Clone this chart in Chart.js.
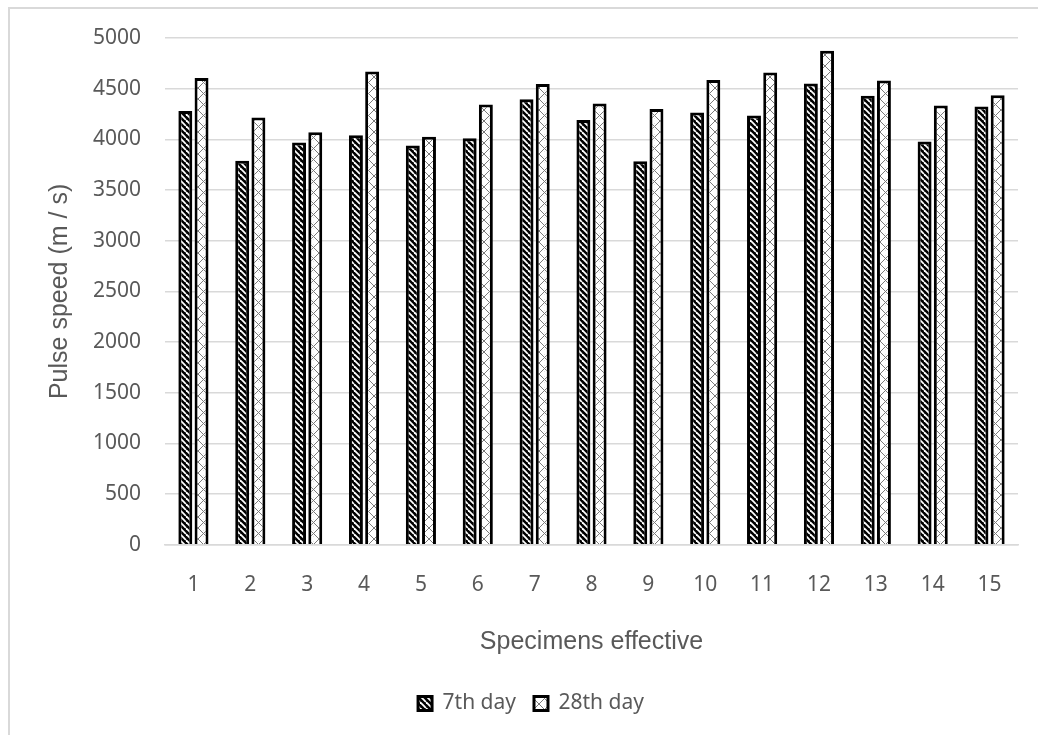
<!DOCTYPE html>
<html>
<head>
<meta charset="utf-8">
<script src="https://cdn.jsdelivr.net/npm/chart.js@4/dist/chart.umd.min.js"></script>
<style>
  body { margin: 0; background: #fff; }
  #wrap { position: relative; width: 1038px; height: 735px; overflow: hidden; }
  #frame { position: absolute; left: 8px; top: 7px; width: 1040px; height: 740px; border: 2px solid #d9d9d9; pointer-events: none; }
</style>
</head>
<body>
<div id="wrap">
  <canvas id="chartPulse" width="1038" height="735"></canvas>
  <div id="frame"></div>
</div>
<script>
// Datos del gráfico
const specimens = ["1", "2", "3", "4", "5", "6", "7", "8", "9", "10", "11", "12", "13", "14", "15"];
const day7 = [4280, 3790, 3970, 4040, 3940, 4010, 4395, 4190, 3785, 4265, 4235, 4550, 4430, 3980, 4325];
const day28 = [4605, 4215, 4070, 4670, 4025, 4345, 4545, 4355, 4300, 4585, 4660, 4875, 4580, 4335, 4435];
const yTicks = [0, 500, 1000, 1500, 2000, 2500, 3000, 3500, 4000, 4500, 5000];

// Patrón de rayas diagonales (7th day)
function stripePattern() {
  const c = document.createElement("canvas");
  c.width = 6; c.height = 6;
  const g = c.getContext("2d");
  g.fillStyle = "#000";
  g.fillRect(0, 0, 6, 6);
  g.strokeStyle = "#fff";
  g.lineWidth = 1.8;
  for (const k of [-6, 0, 6]) {
    g.beginPath();
    g.moveTo(k, 0);
    g.lineTo(k + 6, 6);
    g.stroke();
  }
  return g.createPattern(c, "repeat");
}

// Patrón cuadriculado en diagonal (28th day)
function crossPattern() {
  const c = document.createElement("canvas");
  c.width = 11; c.height = 11;
  const g = c.getContext("2d");
  g.fillStyle = "#fff";
  g.fillRect(0, 0, 11, 11);
  g.fillStyle = "#e4e4e4";
  g.fillRect(5, 2, 1, 1);
  g.fillRect(5, 8, 1, 1);
  g.strokeStyle = "#7a7a7a";
  g.lineWidth = 1;
  g.beginPath();
  g.moveTo(0, 0); g.lineTo(11, 11);
  g.moveTo(11, 0); g.lineTo(0, 11);
  g.stroke();
  return g.createPattern(c, "repeat");
}

const tickFont = { family: "'Noto Sans', sans-serif", size: 21 };
const titleFont = { family: "'Liberation Sans', Arial, sans-serif", size: 25 };

const canvas = document.getElementById("chartPulse");
new Chart(canvas, {
  type: "bar",
  data: {
    labels: specimens,
    datasets: [
      { label: "7th day", data: day7, backgroundColor: stripePattern(), borderColor: "#000", borderWidth: 3 },
      { label: "28th day", data: day28, backgroundColor: crossPattern(), borderColor: "#000", borderWidth: 3 }
    ]
  },
  options: {
    responsive: false,
    animation: false,
    layout: { padding: { top: 38, right: 20, left: 44, bottom: 11 } },
    datasets: { bar: { categoryPercentage: 0.57, barPercentage: 0.86 } },
    plugins: {
      legend: {
        position: "bottom",
        labels: {
          boxWidth: 14, boxHeight: 14, padding: 18,
          color: "#595959",
          font: tickFont
        }
      },
      tooltip: { enabled: false }
    },
    scales: {
      x: {
        grid: { display: false, drawTicks: false },
        border: { color: "#d9d9d9", width: 1.5 },
        ticks: { color: "#595959", padding: 28, font: tickFont },
        title: {
          display: true, text: "Specimens effective", color: "#595959",
          padding: { top: 1, bottom: 18 },
          font: titleFont
        }
      },
      y: {
        min: 0, max: 5000,
        afterBuildTicks: (s) => { s.ticks = yTicks.map((v) => ({ value: v })); },
        afterFit: (s) => { s.width = 121; },
        grid: { color: "#d9d9d9", lineWidth: 1.5, drawTicks: false },
        border: { display: false },
        ticks: { color: "#595959", padding: 24, font: tickFont, callback: (v) => String(v) },
        title: {
          display: true, text: "Pulse speed (m / s)", color: "#595959",
          padding: { top: 1, bottom: 0 },
          font: titleFont
        }
      }
    }
  }
});
</script>
</body>
</html>
